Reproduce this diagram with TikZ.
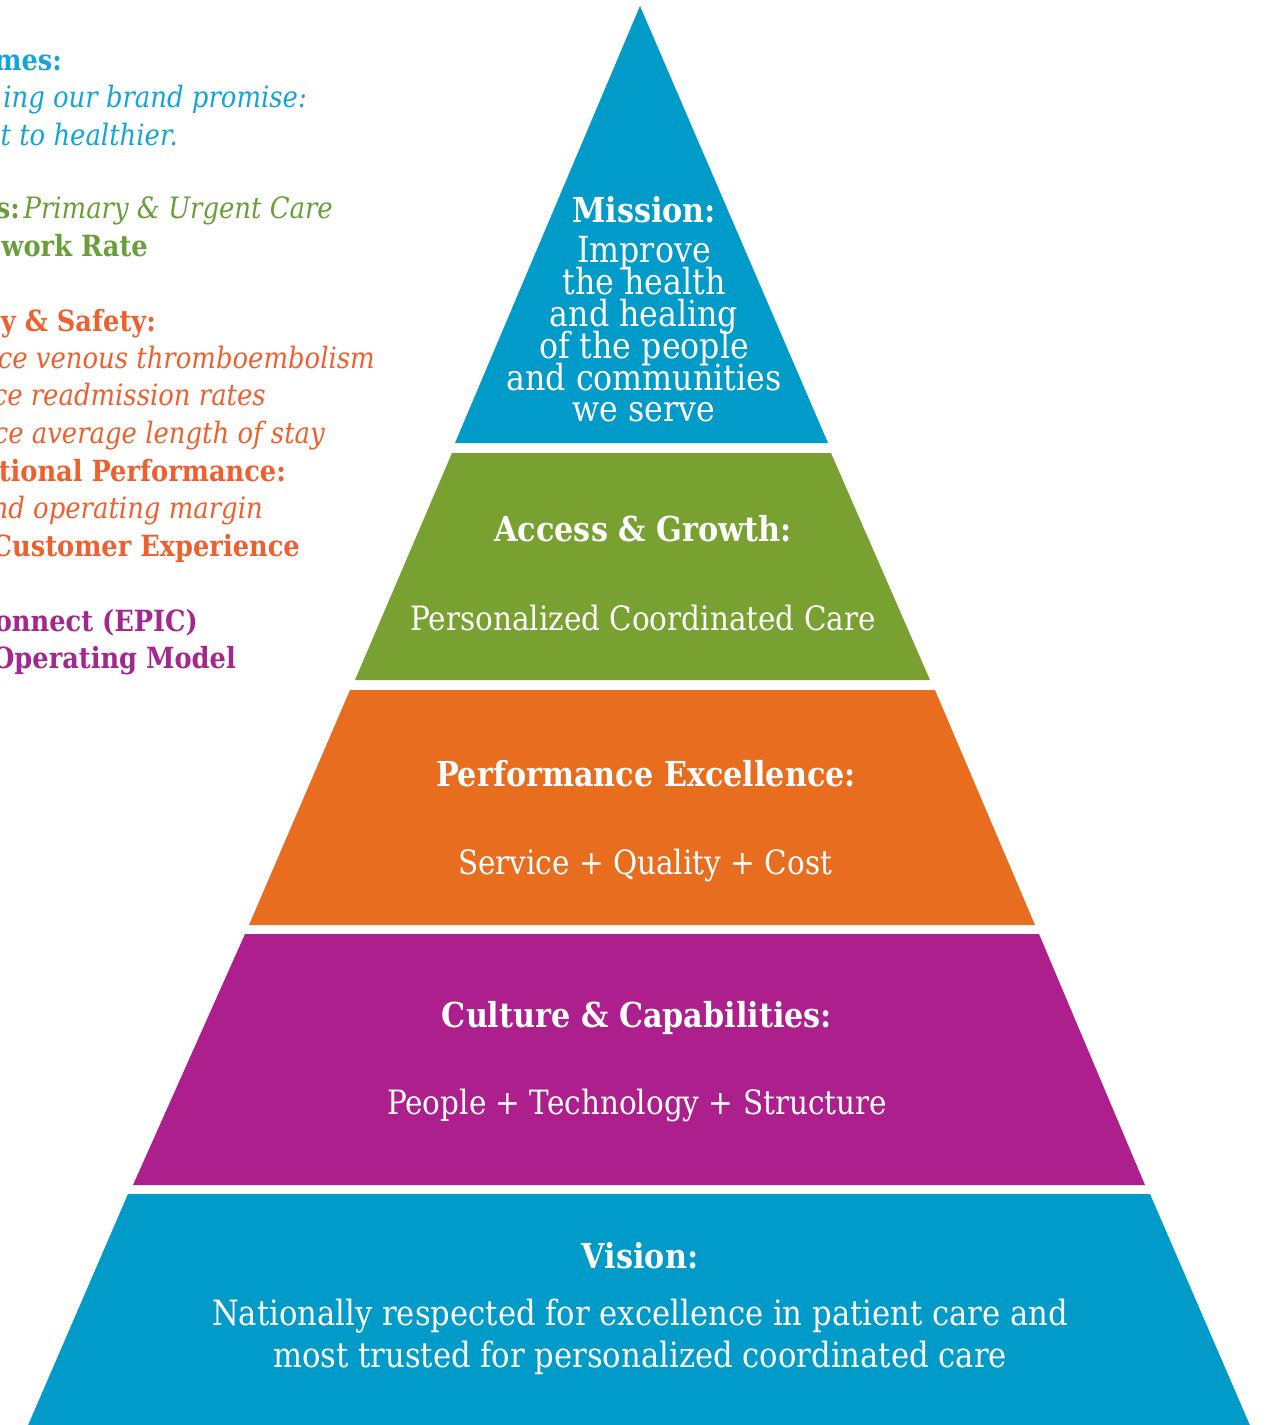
\documentclass[tikz,border=0pt]{standalone}
\usepackage{fontspec}
\setmainfont{DejaVu Serif}[FakeStretch=0.88]
\definecolor{pblue}{HTML}{009BC8}
\definecolor{pgreen}{HTML}{79A132}
\definecolor{porange}{HTML}{E86D1F}
\definecolor{pmag}{HTML}{AC1F8D}
\definecolor{tblue}{HTML}{14A5D6}
\definecolor{tgreen}{HTML}{6A9E3A}
\definecolor{torange}{HTML}{EF602F}
\definecolor{tpurple}{HTML}{A4278F}
\newlength\fitlen
\newcommand\measurefs[4]{\settowidth\fitlen{#3\fontsize{10pt}{12pt}\selectfont #4}\pgfmathsetmacro#1{10*#2/\fitlen}}
\newcommand\fsz[1]{\fontsize{#1pt}{#1pt}\selectfont}
\tikzset{
  ptxt/.style={anchor=base, inner sep=0pt, text=white},
  ltxt/.style={anchor=base east, inner sep=0pt},
}
\begin{document}
\measurefs{\fsMis}{275}{}{and communities}%
\measurefs{\fsTitle}{420}{\bfseries}{Performance Excellence:}%
\measurefs{\fsBody}{500}{}{People + Technology + Structure}%
\measurefs{\fsVis}{856}{}{Nationally respected for excellence in patient care and}%
\measurefs{\fsLi}{377}{\itshape}{ce venous thromboembolism}%
\measurefs{\fsLb}{287}{\bfseries}{tional Performance:}%
\begin{tikzpicture}[x=1pt,y=-1pt]
\useasboundingbox (0,0) rectangle (1267,1425);
\clip (0,0) rectangle (1267,1425);
% pyramid layers
\fill[pblue] (640,6) -- (828,443) -- (455,443) -- cycle;
\fill[pgreen] (452,453) -- (831,453) -- (930,680) -- (355,680) -- cycle;
\fill[porange] (350,690) -- (935,690) -- (1035,925) -- (249,925) -- cycle;
\fill[pmag] (245,934) -- (1039,934) -- (1145,1185) -- (133,1185) -- cycle;
\fill[pblue] (128,1194) -- (1150,1194) -- (1252,1430) -- (26,1430) -- cycle;
% mission
\node[ptxt] (misT) at (644,222) {\bfseries\fsz{\fsTitle}Mission:};
\node[ptxt] (mis1) at (644,262) {\fsz{\fsMis}Improve};
\node[ptxt] (mis2) at (644,294) {\fsz{\fsMis}the health};
\node[ptxt] (mis3) at (644,326) {\fsz{\fsMis}and healing};
\node[ptxt] (mis4) at (644,358) {\fsz{\fsMis}of the people};
\node[ptxt] (mis5) at (644,390) {\fsz{\fsMis}and communities};
\node[ptxt] (mis6) at (644,421) {\fsz{\fsMis}we serve};
% tiers
\node[ptxt] (accT) at (643,541) {\bfseries\fsz{\fsTitle}Access \& Growth:};
\node[ptxt] (accB) at (643,630) {\fsz{\fsBody}Personalized Coordinated Care};
\node[ptxt] (perT) at (646,786) {\bfseries\fsz{\fsTitle}Performance Excellence:};
\node[ptxt] (perB) at (645,874) {\fsz{\fsBody}Service + Quality + Cost};
\node[ptxt] (culT) at (637,1027) {\bfseries\fsz{\fsTitle}Culture \& Capabilities:};
\node[ptxt] (culB) at (637,1114) {\fsz{\fsBody}People + Technology + Structure};
\node[ptxt] (visT) at (640,1268) {\bfseries\fsz{\fsTitle}Vision:};
\node[ptxt] (vis1) at (640,1325) {\fsz{\fsVis}Nationally respected for excellence in patient care and};
\node[ptxt] (vis2) at (640,1367) {\fsz{\fsVis}most trusted for personalized coordinated care};
% left text
\node[ltxt,text=tblue] (l1) at (62,70) {\bfseries\fsz{\fsLb}mes:};
\node[ltxt,text=tblue] (l2) at (307,107) {\itshape\fsz{\fsLi}ing our brand promise:};
\node[ltxt,text=tblue] (l3) at (178,145) {\itshape\fsz{\fsLi}t to healthier.};
\node[ltxt,text=tgreen] (l4) at (333,218) {{\bfseries\fsz{\fsLb}s:} {\itshape\fsz{\fsLi}Primary \& Urgent Care}};
\node[ltxt,text=tgreen] (l5) at (148,256) {\bfseries\fsz{\fsLb}work Rate};
\node[ltxt,text=torange] (l6) at (156,331) {\bfseries\fsz{\fsLb}y \& Safety:};
\node[ltxt,text=torange] (l7) at (375,368) {\itshape\fsz{\fsLi}ce venous thromboembolism};
\node[ltxt,text=torange] (l8) at (266,405) {\itshape\fsz{\fsLi}ce readmission rates};
\node[ltxt,text=torange] (l9) at (325,443) {\itshape\fsz{\fsLi}ce average length of stay};
\node[ltxt,text=torange] (l10) at (286,481) {\bfseries\fsz{\fsLb}tional Performance:};
\node[ltxt,text=torange] (l11) at (263,518) {\itshape\fsz{\fsLi}nd operating margin};
\node[ltxt,text=torange] (l12) at (300,556) {\bfseries\fsz{\fsLb}Customer Experience};
\node[ltxt,text=tpurple] (l13) at (198,631) {\bfseries\fsz{\fsLb}Connect (EPIC)};
\node[ltxt,text=tpurple] (l14) at (236,668) {\bfseries\fsz{\fsLb}Operating Model};
\end{tikzpicture}
\end{document}
